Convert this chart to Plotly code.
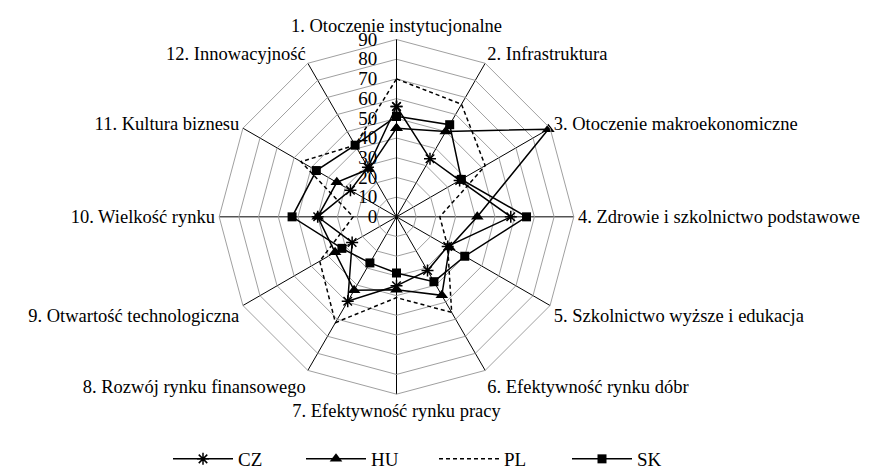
import plotly.graph_objects as go

categories = [
    "1. Otoczenie instytucjonalne",
    "2. Infrastruktura",
    "3. Otoczenie makroekonomiczne",
    "4. Zdrowie i szkolnictwo podstawowe",
    "5. Szkolnictwo wyższe i edukacja",
    "6. Efektywność rynku dóbr",
    "7. Efektywność rynku pracy",
    "8. Rozwój rynku finansowego",
    "9. Otwartość technologiczna",
    "10. Wielkość rynku",
    "11. Kultura biznesu",
    "12. Innowacyjność",
]

cz = [56, 34, 37, 58, 30, 31.5, 35, 49.5, 26, 40, 27, 29]
hu = [45, 50, 89, 41, 31, 46, 37, 43, 36, 40, 35, 28]
pl = [70, 66, 52, 22, 30, 56, 41, 62, 45, 22, 56, 42]
sk = [51, 54, 38, 66, 40, 38, 28.5, 27, 32, 53, 47, 42]

radial_ticks = [0, 10, 20, 30, 40, 50, 60, 70, 80, 90]

FONT = "Liberation Serif, Times New Roman, serif"
FS = 19

def closed(v):
    return list(v) + [v[0]]

theta = closed(categories)

fig = go.Figure()
fig.add_trace(go.Scatterpolar(
    r=closed(cz), theta=theta, name="CZ", mode="lines+markers",
    line=dict(color="black", width=1.5),
    marker=dict(symbol="asterisk-open", size=10, color="black", line=dict(color="black", width=1.5)),
))
fig.add_trace(go.Scatterpolar(
    r=closed(hu), theta=theta, name="HU", mode="lines+markers",
    line=dict(color="black", width=1.5),
    marker=dict(symbol="triangle-up", size=11, color="black"),
))
fig.add_trace(go.Scatterpolar(
    r=closed(pl), theta=theta, name="PL", mode="lines",
    line=dict(color="black", width=1.5, dash="4px,3px"),
))
fig.add_trace(go.Scatterpolar(
    r=closed(sk), theta=theta, name="SK", mode="lines+markers",
    line=dict(color="black", width=1.5),
    marker=dict(symbol="square", size=9, color="black"),
))

cx, cy, R = 388.5, 212, 180
W, H = 872, 470

fig.update_layout(
    width=W, height=H,
    paper_bgcolor="white",
    plot_bgcolor="white",
    margin=dict(l=0, r=0, t=0, b=0),
    font=dict(family=FONT, size=FS, color="black"),
    polar=dict(
        domain=dict(x=[(cx - R) / W, (cx + R) / W], y=[(H - cy - R) / H, (H - cy + R) / H]),
        bgcolor="white",
        gridshape="linear",
        radialaxis=dict(
            range=[0, 90], tickvals=radial_ticks, ticktext=[str(t) for t in radial_ticks],
            angle=90, tickangle=90, side="counterclockwise",
            showline=True, linecolor="black", linewidth=1,
            gridcolor="#a0a0a0", gridwidth=1,
            ticks="outside", ticklen=12, tickcolor="rgba(0,0,0,0)",
            tickfont=dict(family=FONT, size=FS, color="black"),
        ),
        angularaxis=dict(
            direction="clockwise", rotation=90,
            showline=True, linecolor="#a0a0a0", linewidth=1,
            gridcolor="black", gridwidth=1,
            ticks="",
            tickfont=dict(family=FONT, size=18.5, color="black"),
        ),
    ),
    showlegend=True,
    legend=dict(
        orientation="h", x=160 / W, xanchor="left", y=(H - 458) / H, yanchor="middle",
        entrywidth=58, entrywidthmode="pixels",
        font=dict(family=FONT, size=FS, color="black"),
        itemwidth=60, bgcolor="rgba(0,0,0,0)",
    ),
)

fig.write_html("out.html")
